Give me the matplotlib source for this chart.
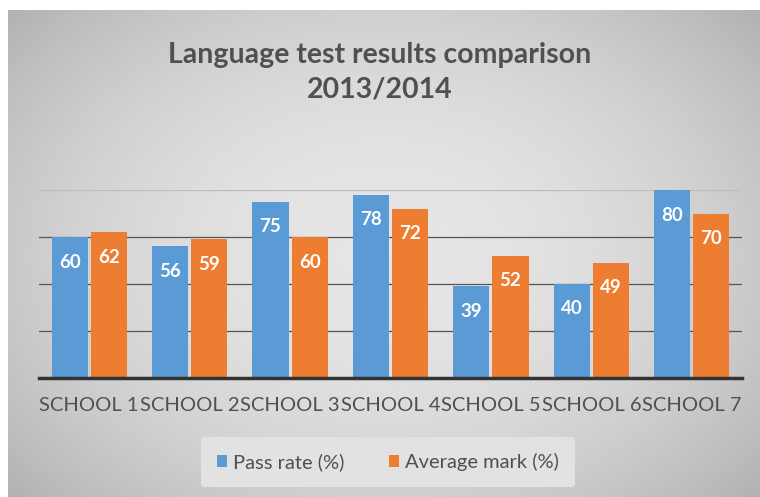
"""Language test results comparison, clustered bars"""

import numpy as np
import matplotlib.pyplot as plt

schools = ['SCHOOL 1', 'SCHOOL 2', 'SCHOOL 3', 'SCHOOL 4',
           'SCHOOL 5', 'SCHOOL 6', 'SCHOOL 7']
pass_rate = [60, 56, 75, 78, 39, 40, 80]
average_mark = [62, 59, 60, 72, 52, 49, 70]

BLUE = '#5B9BD5'
ORANGE = '#ED7D31'
TEXT = '#505050'

plt.rcParams['font.family'] = ['Lato', 'DejaVu Sans']

fig = plt.figure(figsize=(7.6, 4.97), dpi=100)
fig.patch.set_facecolor('white')

# gray panel with a soft radial gradient
bg = fig.add_axes([8 / 760, 0, 1 - 8 / 760, 1 - 10 / 497], zorder=-10)
yy, xx = np.mgrid[-1:1:200j, -1:1:300j]
r = np.sqrt((xx * 0.9) ** 2 + (yy * 0.8) ** 2)
bg.imshow(0.90 - 0.14 * np.clip(r, 0, 1.3) ** 2, cmap='gray', vmin=0, vmax=1,
          aspect='auto', extent=[0, 1, 0, 1], interpolation='bilinear')
bg.axis('off')

ax = fig.add_axes([39 / 760, 1 - 378 / 497, 703 / 760, 188 / 497])
ax.patch.set_alpha(0)

x = np.arange(len(schools))
w = 0.36
b1 = ax.bar(x - 0.195, pass_rate, w, color=BLUE, label='Pass rate (%)', zorder=3)
b2 = ax.bar(x + 0.195, average_mark, w, color=ORANGE, label='Average mark (%)', zorder=3)

for bars in (b1, b2):
    for rect in bars:
        ax.annotate(f'{rect.get_height():.0f}',
                    (rect.get_x() + rect.get_width() / 2, rect.get_height()),
                    xytext=(0, -18), textcoords='offset points',
                    ha='center', va='center', color='white',
                    fontsize=13.5, fontweight='bold', zorder=4)

ax.set_xlim(-0.5, len(schools) - 0.5)
ax.set_ylim(0, 80)
ax.set_yticks([20, 40, 60, 80])
ax.yaxis.grid(True, color='#555555', linewidth=0.9, zorder=1)
ax.get_ygridlines()[-1].set_color('#bdbdbd')
ax.tick_params(axis='y', left=False, labelleft=False)
ax.tick_params(axis='x', bottom=False, pad=10)
ax.set_xticks(x)
ax.set_xticklabels(schools, fontsize=14.5, color=TEXT)
for side in ('top', 'right', 'left'):
    ax.spines[side].set_visible(False)
ax.spines['bottom'].set_color('#333333')
ax.spines['bottom'].set_linewidth(2.5)
ax.spines['bottom'].set_zorder(5)

fig.text(0.5, 1 - 72 / 497, 'Language test results comparison\n2013/2014',
         ha='center', va='center', fontsize=20.5, fontweight='bold',
         color=TEXT, linespacing=1.4)

leg = fig.legend(loc='center', bbox_to_anchor=(388 / 760, 1 - 462 / 497),
                 ncol=2, frameon=True, fontsize=14.5, handlelength=0.5,
                 handleheight=0.5, handletextpad=0.3, columnspacing=2.2,
                 borderpad=0.8, borderaxespad=0)
leg.get_frame().set_facecolor('#e2e2e2')
leg.get_frame().set_edgecolor('none')
leg.get_frame().set_alpha(1)
for t in leg.get_texts():
    t.set_color(TEXT)

fig.savefig('out.png', dpi=100)
